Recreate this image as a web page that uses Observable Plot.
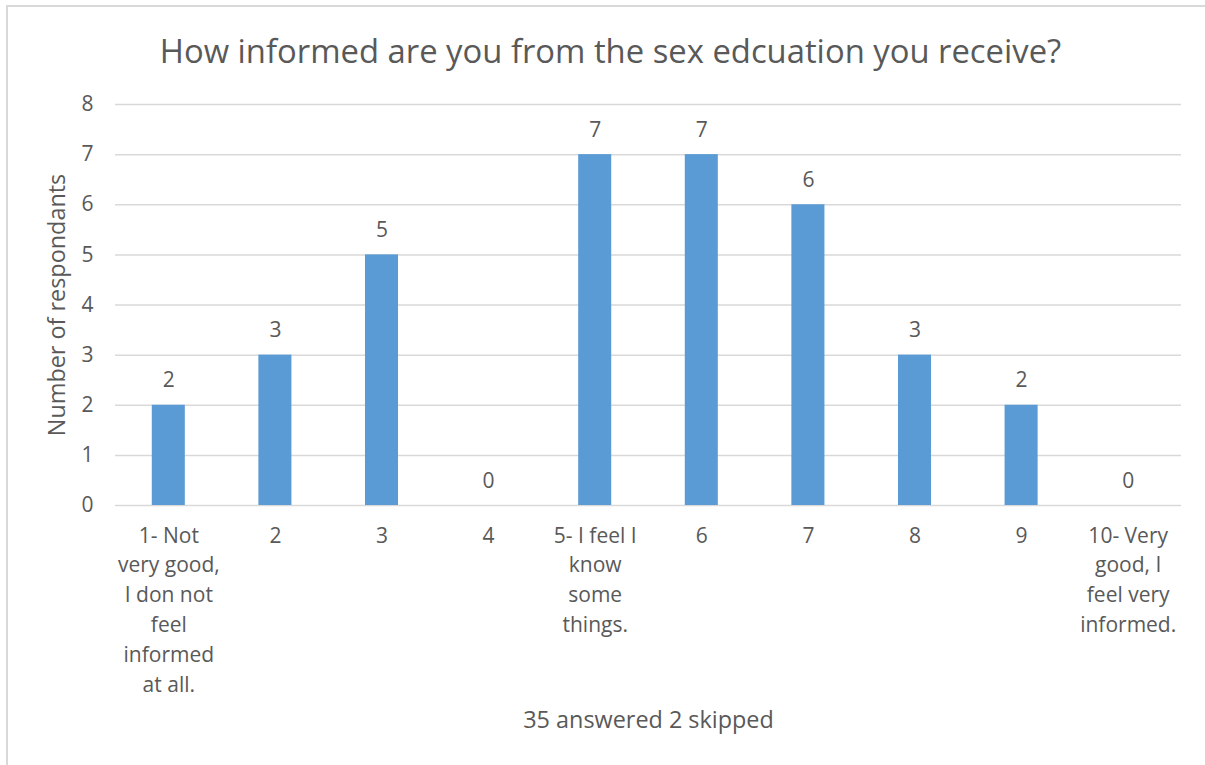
<!DOCTYPE html>
<html>
<head>
<meta charset="utf-8">
<script src="https://cdn.jsdelivr.net/npm/d3@7"></script>
<script src="https://cdn.jsdelivr.net/npm/@observablehq/plot@0.6"></script>
<style>
  html, body { margin: 0; padding: 0; background: #fff; }
  #wrap { position: relative; width: 1205px; height: 765px; overflow: hidden; font-family: "Open Sans", sans-serif; color: #595959; }
  #frame { position: absolute; left: 6px; top: 5px; width: 1300px; height: 900px; border-left: 2px solid #d9d9d9; border-top: 2px solid #d9d9d9; box-sizing: border-box; }
  #title { position: absolute; left: 16px; top: 0; width: 1189px; height: 85px; line-height: 101px; text-align: center; font-size: 32.8px; white-space: nowrap; }
  #chart { position: absolute; left: 0; top: 85px; }
</style>
</head>
<body>
<div id="wrap">
  <div id="frame"></div>
  <div id="title">How informed are you from the sex edcuation you receive?</div>
  <div id="chart"></div>
</div>
<script>
const categories = [
  "1- Not\nvery good,\nI don not\nfeel\ninformed\nat all.",
  "2",
  "3",
  "4",
  "5- I feel I\nknow\nsome\nthings.",
  "6",
  "7",
  "8",
  "9",
  "10- Very\ngood, I\nfeel very\ninformed."
];
const counts = [2, 3, 5, 0, 7, 7, 6, 3, 2, 0];
const yTicks = [0, 1, 2, 3, 4, 5, 6, 7, 8];
const yTitle = "Number of respondants";
const xTitle = "35 answered 2 skipped";

const data = categories.map((c, i) => ({category: c, count: counts[i]}));
const textColor = "#595959";

const chart = Plot.plot({
  width: 1205,
  height: 680,
  marginTop: 19,
  marginBottom: 260,
  marginLeft: 115,
  marginRight: 24,
  style: {fontFamily: "'Open Sans', sans-serif", fontSize: "21px", color: textColor, background: "transparent", overflow: "visible"},
  x: {domain: categories, paddingInner: 0.69, paddingOuter: 0.345, round: false, label: null},
  y: {domain: [0, 8], label: null},
  marks: [
    Plot.ruleY(yTicks, {stroke: "#d9d9d9", strokeWidth: 1.5}),
    Plot.barY(data, {x: "category", y: "count", fill: "#5b9bd5"}),
    Plot.text(data, {x: "category", y: "count", text: d => String(d.count), dy: -24.5, fill: textColor, fontSize: 21}),
    Plot.axisY(yTicks, {tickSize: 0, tickPadding: 22, tickFormat: "d", fontSize: 21, fill: textColor, label: null}),
    Plot.axisX({tickSize: 0, tickPadding: 16, lineHeight: 1.42, fontSize: 21, fill: textColor, label: null}),
    Plot.text([yTitle], {frameAnchor: "left", dx: -58, rotate: -90, textAnchor: "middle", fontSize: 23.4, fill: textColor}),
    Plot.text([xTitle], {frameAnchor: "bottom", dy: 222, fontSize: 23.4, fill: textColor})
  ]
});
document.getElementById("chart").appendChild(chart);
</script>
</body>
</html>
